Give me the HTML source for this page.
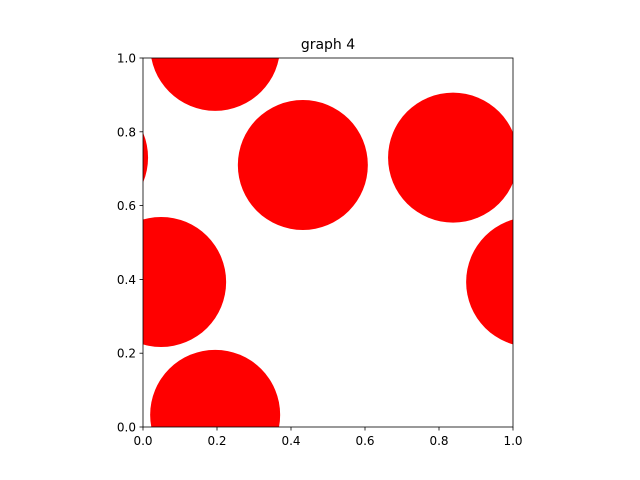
<!DOCTYPE html>
<html><head><meta charset="utf-8"><style>
html,body{margin:0;padding:0;background:#fff;overflow:hidden;width:640px;height:480px}
svg{display:block}
svg text{font-family:"DejaVu Sans","Liberation Sans",sans-serif;font-size:12px;fill:#000}
</style></head><body>
<svg id="chart" width="640" height="480">
<defs><clipPath id="clip"><rect x="143" y="58" width="370" height="369"/></clipPath></defs>
<rect width="640" height="480" fill="#fff"/>
<text x="328" y="49" text-anchor="middle" style="font-size:14px">graph 4</text>
<g id="marks" clip-path="url(#clip)"></g>
<rect x="143" y="58" width="370" height="369" fill="none" stroke="#000" stroke-width="0.8"/>
<g id="ticks"></g>
</svg>
<script>
const xs=[0.195,0.432,0.838,0.049];
const ys=[0.033,0.71,0.73,0.393];
const tickVals=[0,0.2,0.4,0.6,0.8,1.0];
const tickLabels=["0.0","0.2","0.4","0.6","0.8","1.0"];
const X0=143,X1=513,Y0=427,Y1=58,R=65;
const sx=v=>X0+v*(X1-X0), sy=v=>Y0-v*(Y0-Y1);
const NS="http://www.w3.org/2000/svg";
const g=document.getElementById('marks');
xs.forEach((x,i)=>{
  for(const dx of [-1,0,1])for(const dy of [-1,0,1]){
    const cx=sx(x+dx), cy=sy(ys[i]+dy);
    if(cx+R<X0||cx-R>X1||cy+R<Y1||cy-R>Y0) continue;
    const c=document.createElementNS(NS,'circle');
    c.setAttribute('cx',cx);c.setAttribute('cy',cy);
    c.setAttribute('r',R);c.setAttribute('fill','#ff0000');
    
    
    g.appendChild(c);
  }
});
const t=document.getElementById('ticks');
tickVals.forEach((v,i)=>{
  const lx=document.createElementNS(NS,'line');
  lx.setAttribute('x1',sx(v));lx.setAttribute('x2',sx(v));lx.setAttribute('y1',Y0);lx.setAttribute('y2',Y0+3.5);lx.setAttribute('stroke','#000');lx.setAttribute('stroke-width','0.8');
  
  
  t.appendChild(lx);
  const tx=document.createElementNS(NS,'text');
  tx.setAttribute('x',sx(v));tx.setAttribute('y',Y0+18);tx.setAttribute('text-anchor','middle');tx.textContent=tickLabels[i];
  
  
  t.appendChild(tx);
  const ly=document.createElementNS(NS,'line');
  ly.setAttribute('x1',X0-3.5);ly.setAttribute('x2',X0);ly.setAttribute('y1',sy(v));ly.setAttribute('y2',sy(v));ly.setAttribute('stroke','#000');ly.setAttribute('stroke-width','0.8');
  
  
  t.appendChild(ly);
  const ty=document.createElementNS(NS,'text');
  ty.setAttribute('x',X0-7);ty.setAttribute('y',sy(v)+4.5);ty.setAttribute('text-anchor','end');ty.textContent=tickLabels[i];
  
  
  t.appendChild(ty);
});
</script>
</body></html>
